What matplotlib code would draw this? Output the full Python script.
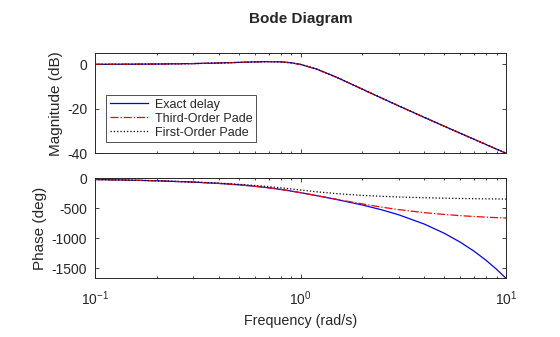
import matplotlib
matplotlib.use("Agg")
import matplotlib.pyplot as plt
from matplotlib.ticker import LogLocator, FixedLocator

plt.rcParams['font.family'] = ['Liberation Sans', 'DejaVu Sans']
plt.rcParams['mathtext.default'] = 'regular'
plt.rcParams['axes.unicode_minus'] = False

# Frequency grid (rad/s)
freq = [0.1, 0.15, 0.2, 0.3, 0.4, 0.5, 0.6, 0.7, 0.8, 0.9, 1.0, 1.2, 1.5,
        2.0, 2.5, 3.0, 4.0, 5.0, 6.0, 7.0, 8.0, 9.0, 10.0]

# Magnitude (dB) - identical for all three responses
mag_db = [0.04, 0.10, 0.17, 0.37, 0.63, 0.90, 1.14, 1.25, 1.14, 0.73, 0.0,
          -2.13, -5.81, -11.14, -15.29, -18.63, -23.82, -27.79, -31.01,
          -33.72, -36.06, -38.12, -39.96]

# Phase (deg)
phase_exact = [-20.67, -31.07, -41.56, -62.94, -85.05, -108.17, -132.53,
               -158.20, -184.95, -212.15, -238.97, -288.90, -353.26, -444.25,
               -526.96, -606.35, -760.95, -913.08, -1064.08, -1214.48,
               -1364.51, -1514.30, -1663.92]
phase_pade3 = [-20.67, -31.07, -41.56, -62.94, -85.07, -108.17, -132.52,
               -158.17, -184.86, -211.98, -238.62, -287.81, -349.20, -426.37,
               -481.33, -520.67, -571.15, -601.42, -621.48, -635.73,
               -646.38, -654.74, -661.20]
phase_pade1 = [-20.58, -30.79, -40.92, -60.86, -80.40, -99.73, -119.06,
               -138.53, -158.01, -177.04, -194.86, -224.82, -255.51, -284.23,
               -300.34, -310.68, -323.30, -330.74, -335.66, -339.16,
               -341.77, -343.81, -345.43]

labels = ['Exact delay', 'Third-Order Pade', 'First-Order Pade']
mag_ticks = [-40, -20, 0]
phase_ticks = [-1500, -1000, -500, 0]

txt = (0.15, 0.15, 0.15)
W, H = 560, 337
fig = plt.figure(figsize=(W / 100, H / 100), dpi=100)
axm = fig.add_axes([95 / W, 1 - 153.3 / H, 411 / W, 100 / H])
axp = fig.add_axes([95 / W, 1 - 278.3 / H, 411 / W, 100 / H])

lw = 0.9
axm.semilogx(freq, mag_db, color='b', lw=lw, ls='-', label=labels[0])
axm.semilogx(freq, mag_db, color='r', lw=lw, ls='-.', label=labels[1])
axm.semilogx(freq, mag_db, color='k', lw=lw, ls=':', label=labels[2])

axp.semilogx(freq, phase_exact, color='b', lw=lw, ls='-')
axp.semilogx(freq, phase_pade3, color='r', lw=lw, ls='-.')
axp.semilogx(freq, phase_pade1, color='k', lw=lw, ls=':')

axm.set_ylim(-40, 5)
axp.set_ylim(-1664, 0)
axm.yaxis.set_major_locator(FixedLocator(mag_ticks))
axp.yaxis.set_major_locator(FixedLocator(phase_ticks))

for ax in (axm, axp):
    ax.set_xlim(0.1, 10)
    ax.xaxis.set_major_locator(LogLocator(base=10, numticks=10))
    ax.xaxis.set_minor_locator(LogLocator(base=10, subs=range(2, 10), numticks=10))
    ax.tick_params(which='both', direction='in', top=True, right=True,
                   colors=txt, labelsize=10, width=0.6)
    ax.tick_params(which='major', length=3, pad=5.5)
    ax.tick_params(which='minor', length=1.6)
    for s in ax.spines.values():
        s.set_color(txt)
        s.set_linewidth(0.7)

axm.tick_params(axis='x', which='both', labelbottom=False)
axp.tick_params(axis='x', which='major', pad=8)

axm.set_ylabel('Magnitude (dB)', fontsize=11, color=txt)
axp.set_ylabel('Phase (deg)', fontsize=11, color=txt)
axm.yaxis.set_label_coords(-0.0771, 0.5)
axp.yaxis.set_label_coords(-0.1175, 0.5)
axp.set_xlabel('Frequency (rad/s)', fontsize=10.3, color=txt, labelpad=4)

fig.text((95 + 411 / 2) / W, 1 - 19.5 / H, 'Bode Diagram', ha='center',
         va='center', fontsize=11, fontweight='bold', color=txt)

leg = axm.legend(loc='lower left', bbox_to_anchor=(0.027, 0.11),
                 borderaxespad=0, fontsize=9, frameon=True, fancybox=False,
                 handlelength=3.1, handletextpad=0.5, labelspacing=0.17,
                 borderpad=0.28)
leg.get_frame().set_edgecolor('k')
leg.get_frame().set_linewidth(0.6)
for t in leg.get_texts():
    t.set_color(txt)

fig.savefig('out.png', dpi=100)
